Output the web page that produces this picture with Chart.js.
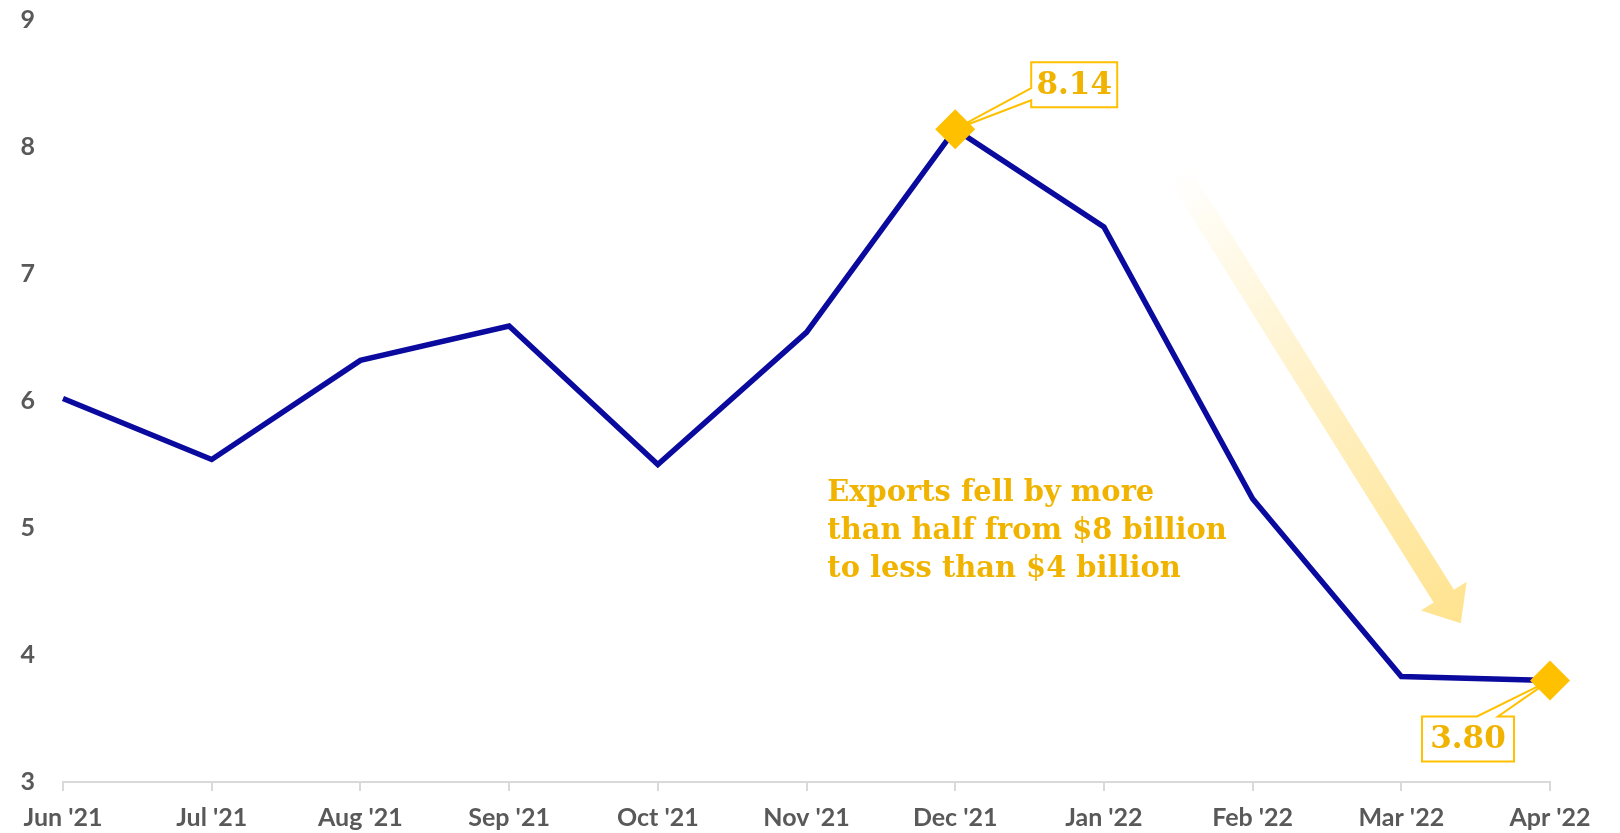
<!DOCTYPE html>
<html>
<head>
<meta charset="utf-8">
<script src="https://cdn.jsdelivr.net/npm/chart.js@4.4.1/dist/chart.umd.min.js"></script>
<style>
  html, body { margin: 0; padding: 0; background: #fff; }
</style>
</head>
<body>
<canvas id="chart" width="1620" height="833"></canvas>
<script>
// data
const months = ["Jun '21", "Jul '21", "Aug '21", "Sep '21", "Oct '21", "Nov '21",
                "Dec '21", "Jan '22", "Feb '22", "Mar '22", "Apr '22"];
const exportsBn = [6.02, 5.54, 6.32, 6.59, 5.50, 6.54, 8.14, 7.37, 5.23, 3.83, 3.80];
const highlighted = [6, 10];
const yMin = 3, yMax = 9, yStep = 1;
const noteLines = ["Exports fell by more", "than half from $8 billion", "to less than $4 billion"];

const gold = "#FFC000";
const goldText = "#F0B400";
const grey = "#595959";

// callout boxes, offsets from their point (px)
const callouts = [
  { index: 6, dx: 76, dy: -67, w: 86, h: 45, side: "left", a1: 26, a2: 38 },
  { index: 10, dx: -128, dy: 36, w: 92, h: 45, side: "top", a1: 55, a2: 76 }
];

function drawCallout(ctx, px, py, c, text) {
  const bx = px + c.dx, by = py + c.dy;
  ctx.save();
  ctx.fillStyle = "#fff";
  ctx.fillRect(bx, by, c.w, c.h);
  ctx.strokeStyle = gold;
  ctx.lineWidth = 2;
  ctx.lineJoin = "miter";
  ctx.beginPath();
  if (c.side === "left") {
    ctx.moveTo(bx, by + c.a1);
    ctx.lineTo(bx, by);
    ctx.lineTo(bx + c.w, by);
    ctx.lineTo(bx + c.w, by + c.h);
    ctx.lineTo(bx, by + c.h);
    ctx.lineTo(bx, by + c.a2);
    ctx.lineTo(px, py);
    ctx.closePath();
  } else {
    ctx.moveTo(bx + c.a2, by);
    ctx.lineTo(bx + c.w, by);
    ctx.lineTo(bx + c.w, by + c.h);
    ctx.lineTo(bx, by + c.h);
    ctx.lineTo(bx, by);
    ctx.lineTo(bx + c.a1, by);
    ctx.lineTo(px, py);
    ctx.closePath();
  }
  ctx.stroke();
  ctx.fillStyle = goldText;
  ctx.font = "bold 31px 'DejaVu Serif'";
  ctx.textAlign = "center";
  ctx.textBaseline = "middle";
  ctx.fillText(text, bx + c.w / 2, by + c.h / 2 + 1);
  ctx.restore();
}

function drawArrow(ctx, x0, y0, x1, y1) {
  const len = Math.hypot(x1 - x0, y1 - y0);
  const ux = (x1 - x0) / len, uy = (y1 - y0) / len;
  const nx = -uy, ny = ux;
  const shaft = 12, head = 27, headLen = 32;
  const bx = x1 - ux * headLen, by = y1 - uy * headLen;
  const grad = ctx.createLinearGradient(x0, y0, x1, y1);
  grad.addColorStop(0, "rgba(255,192,0,0)");
  grad.addColorStop(1, "rgba(255,196,20,0.48)");
  ctx.save();
  ctx.fillStyle = grad;
  ctx.beginPath();
  ctx.moveTo(x0 + nx * shaft, y0 + ny * shaft);
  ctx.lineTo(bx + nx * shaft, by + ny * shaft);
  ctx.lineTo(bx + nx * head, by + ny * head);
  ctx.lineTo(x1, y1);
  ctx.lineTo(bx - nx * head, by - ny * head);
  ctx.lineTo(bx - nx * shaft, by - ny * shaft);
  ctx.lineTo(x0 - nx * shaft, y0 - ny * shaft);
  ctx.closePath();
  ctx.fill();
  ctx.restore();
}

const annotations = {
  id: "annotations",
  beforeDatasetsDraw(chart) {
    const ctx = chart.ctx;
    const xs = chart.scales.x, ys = chart.scales.y;
    drawArrow(ctx, xs.getPixelForValue(7.5), ys.getPixelForValue(7.8),
                   xs.getPixelForValue(9.4), ys.getPixelForValue(4.25));

    // the note, sized so the widest line is about 400px
    ctx.save();
    ctx.font = "bold 30px 'DejaVu Serif'";
    const widest = Math.max(...noteLines.map((l) => ctx.measureText(l).width));
    const size = Math.min(30, 30 * 400 / widest);
    ctx.font = "bold " + size.toFixed(1) + "px 'DejaVu Serif'";
    ctx.fillStyle = goldText;
    ctx.textAlign = "left";
    ctx.textBaseline = "alphabetic";
    const tx = xs.getPixelForValue(5.14);
    const ty = ys.getPixelForValue(5.21);
    noteLines.forEach((line, i) => ctx.fillText(line, tx, ty + i * 38));
    ctx.restore();
  },
  afterDatasetsDraw(chart) {
    const ctx = chart.ctx;
    const meta = chart.getDatasetMeta(0);
    callouts.forEach((c) => {
      const pt = meta.data[c.index];
      drawCallout(ctx, pt.x, pt.y, c, exportsBn[c.index].toFixed(2));
    });
  }
};

const tickFont = { family: "Lato", weight: "bold", size: 25 };

new Chart(document.getElementById("chart"), {
  type: "line",
  data: {
    labels: months,
    datasets: [{
      data: exportsBn,
      borderColor: "#0a0a9e",
      borderWidth: 5.5,
      tension: 0,
      fill: false,
      pointStyle: "rectRot",
      pointRadius: (c) => (highlighted.includes(c.dataIndex) ? 20 : 0),
      pointBackgroundColor: gold,
      pointBorderWidth: 0,
      pointHoverRadius: 0
    }]
  },
  options: {
    responsive: false,
    animation: false,
    events: [],
    layout: { padding: { top: 20, right: 70, left: 0, bottom: 0 } },
    plugins: { legend: { display: false }, tooltip: { enabled: false } },
    scales: {
      x: {
        offset: false,
        grid: { display: true, drawOnChartArea: false, drawTicks: true, tickLength: 9, color: "#d9d9d9", lineWidth: 2 },
        border: { display: true, color: "#d9d9d9", width: 2 },
        ticks: { color: grey, font: tickFont, padding: 12, maxRotation: 0, autoSkip: false },
        afterFit(s) { s.height = 51; }
      },
      y: {
        min: yMin,
        max: yMax,
        // invisible tick marks push the labels left without adding top padding
        grid: { display: true, drawOnChartArea: false, drawTicks: true, tickLength: 28, color: "rgba(0,0,0,0)" },
        border: { display: false },
        ticks: { stepSize: yStep, color: grey, font: tickFont, padding: 0 },
        afterFit(s) { s.width = 63; }
      }
    }
  },
  plugins: [annotations]
});
</script>
</body>
</html>
